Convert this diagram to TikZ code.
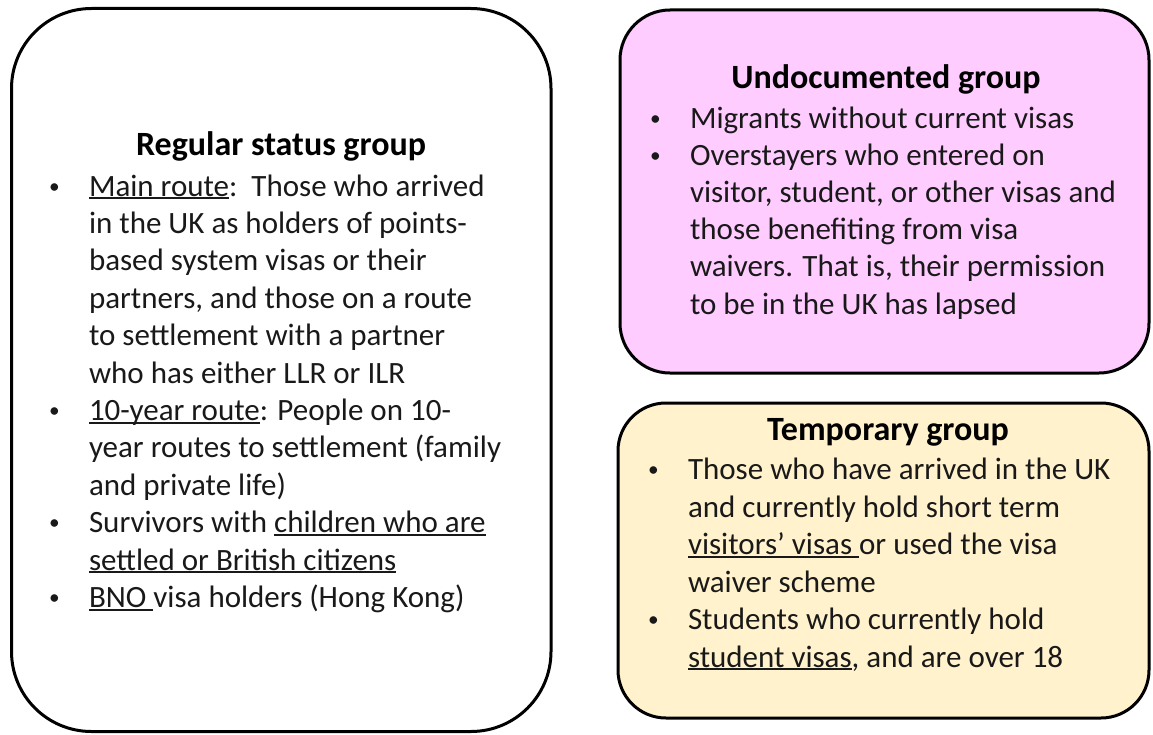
\documentclass[tikz,border=0pt]{standalone}
\usepackage{fontspec}
\setmainfont{Carlito}
\definecolor{pinkfill}{HTML}{FFCCFF}
\definecolor{yellowfill}{HTML}{FFF2CC}
\newcommand\myul[1]{\setbox0=\hbox{#1}\rlap{\rule[-0.11em]{\wd0}{0.065em}}\box0}
\newcommand\bul{\llap{\raisebox{2.2pt}{\fontsize{16pt}{16pt}\selectfont\textbullet}\hspace{22pt}}}
\tikzset{
  boxline/.style={line width=2.25pt, draw=black},
  body/.style={font=\fontsize{23.25pt}{27.75pt}\selectfont, inner sep=0pt, outer sep=0pt, anchor=base west, text=black!90},
  title/.style={font=\fontsize{25.5pt}{30pt}\selectfont\bfseries, inner sep=0pt, outer sep=0pt, anchor=base, text=black},
}
\begin{document}
\begin{tikzpicture}[x=0.75pt,y=-0.75pt]
\useasboundingbox (0,0) rectangle (1153,735);
\fill[white] (0,0) rectangle (1153,735);
% boxes
\draw[boxline, fill=white, rounded corners=60pt] (11.5,8.5) rectangle (551,731.5);
\draw[boxline, fill=pinkfill, rounded corners=37.5pt] (620,10) rectangle (1149,373);
\draw[boxline, fill=yellowfill, rounded corners=36pt] (618,403) rectangle (1149,718);
% regular status group
\node[title] (rt) at (281,155) {Regular status group};
\node[body] (r0) at (89,196) {\bul\myul{Main route}:\ \ Those who arrived};
\node[body] (r1) at (89,233.4) {in the UK as holders of points-};
\node[body] (r2) at (89,270.8) {based system visas or their};
\node[body] (r3) at (89,308.2) {partners, and those on a route};
\node[body] (r4) at (89,345.6) {to settlement with a partner};
\node[body] (r5) at (89,383) {who has either LLR or ILR};
\node[body] (r6) at (89,420.4) {\bul\myul{10-year route}: People on 10-};
\node[body] (r7) at (89,457.8) {year routes to settlement (family};
\node[body] (r8) at (89,495.2) {and private life)};
\node[body] (r9) at (89,532.6) {\bul Survivors with \myul{children who are}};
\node[body] (r10) at (89,570) {\myul{settled or British citizens}};
\node[body] (r11) at (89,607.4) {\bul\myul{BNO\ }visa holders (Hong Kong)};
% undocumented group
\node[title] (ut) at (886,89) {Undocumented group};
\node[body] (u0) at (690,128) {\bul Migrants without current visas};
\node[body] (u1) at (690,165.2) {\bul Overstayers who entered on};
\node[body] (u2) at (690,202.4) {visitor, student, or other visas and};
\node[body] (u3) at (690,239.6) {those benefiting from visa};
\node[body] (u4) at (690,276.8) {waivers. That is, their permission};
\node[body] (u5) at (690,314) {to be in the UK has lapsed};
% temporary group
\node[title] (tt) at (888,440) {Temporary group};
\node[body] (t0) at (688,479.5) {\bul Those who have arrived in the UK};
\node[body] (t1) at (688,517) {and currently hold short term};
\node[body] (t2) at (688,554.5) {\myul{visitors’ visas\ }or used the visa};
\node[body] (t3) at (688,592) {waiver scheme};
\node[body] (t4) at (688,629.5) {\bul Students who currently hold};
\node[body] (t5) at (688,667) {\myul{student visas}, and are over 18};
\end{tikzpicture}
\end{document}
